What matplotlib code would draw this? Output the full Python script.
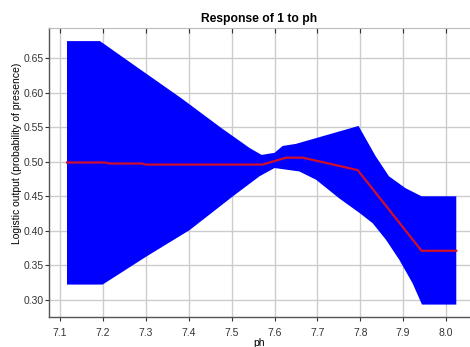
import matplotlib
matplotlib.use("Agg")
import matplotlib.pyplot as plt
import numpy as np

plt.rcParams['font.family'] = ['Liberation Sans', 'DejaVu Sans']

# Upper edge of the band (mean + sd)
UPPER_X = [7.116, 7.193, 7.282, 7.383, 7.476, 7.542, 7.570, 7.600, 7.619, 7.650,
           7.796, 7.836, 7.867, 7.905, 7.943, 8.024]
UPPER_Y = [0.675, 0.675, 0.636, 0.592, 0.549, 0.520, 0.510, 0.513, 0.523, 0.526,
           0.552, 0.508, 0.479, 0.462, 0.450, 0.450]

# Lower edge of the band (mean - sd)
LOWER_X = [7.116, 7.199, 7.302, 7.402, 7.503, 7.565, 7.600, 7.658, 7.697, 7.751,
           7.798, 7.829, 7.860, 7.891, 7.922, 7.944, 8.024]
LOWER_Y = [0.322, 0.322, 0.363, 0.401, 0.450, 0.479, 0.491, 0.486, 0.474, 0.447,
           0.426, 0.411, 0.387, 0.358, 0.324, 0.293, 0.293]

# Mean response
MEAN_X = [7.116, 7.205, 7.215, 7.290, 7.300, 7.572, 7.627, 7.666, 7.794, 7.943, 8.024]
MEAN_Y = [0.499, 0.499, 0.4975, 0.4975, 0.496, 0.496, 0.506, 0.506, 0.488, 0.371, 0.371]

X_TICKS = [7.1, 7.2, 7.3, 7.4, 7.5, 7.6, 7.7, 7.8, 7.9, 8.0]
Y_TICKS = [0.30, 0.35, 0.40, 0.45, 0.50, 0.55, 0.60, 0.65]

fig = plt.figure(figsize=(4.7, 3.47), dpi=100)
ax = fig.add_axes([49 / 470, 30 / 347, 421 / 470, 289 / 347])

# band
poly_x = np.concatenate([UPPER_X, LOWER_X[::-1]])
poly_y = np.concatenate([UPPER_Y, LOWER_Y[::-1]])
ax.fill(poly_x, poly_y, color='#0000ff', lw=0, zorder=2)

# mean line
ax.plot(MEAN_X, MEAN_Y, color='#d0102a', lw=1.6, zorder=3)

ax.set_xlim(7.074, 8.056)
ax.set_ylim(0.275, 0.694)
ax.set_xticks(X_TICKS)
ax.set_xticklabels([f"{v:.1f}" for v in X_TICKS])
ax.set_yticks(Y_TICKS)
ax.set_yticklabels([f"{v:.2f}" for v in Y_TICKS])

ax.grid(True, color='#cccccc', lw=1.0, zorder=1)
ax.set_axisbelow(True)

for s in ('left', 'bottom'):
    ax.spines[s].set_color('#555555')
    ax.spines[s].set_linewidth(1.0)
ax.spines['top'].set_color('#bbbbbb')
ax.spines['right'].set_visible(False)

ax.tick_params(axis='both', labelsize=7.5, colors='#333333', length=3, width=0.8)
ax.tick_params(axis='y', pad=0.5)
ax.tick_params(axis='x', top=True, pad=5)
# top ticks pointing inward
for t in ax.xaxis.get_major_ticks():
    t.tick2line.set_marker(3)  # TICKDOWN
    t.tick2line.set_markersize(3.5)

ax.set_title("Response of 1 to ph", fontsize=8.7, fontweight='bold', pad=4)
ax.set_xlabel("ph", fontsize=7.5, labelpad=0)
ax.set_ylabel("Logistic output (probability of presence)", fontsize=7.5, va='center')
ax.yaxis.set_label_coords(-32 / 421, (317 - 153) / 289)

fig.savefig("out.png", dpi=100)
